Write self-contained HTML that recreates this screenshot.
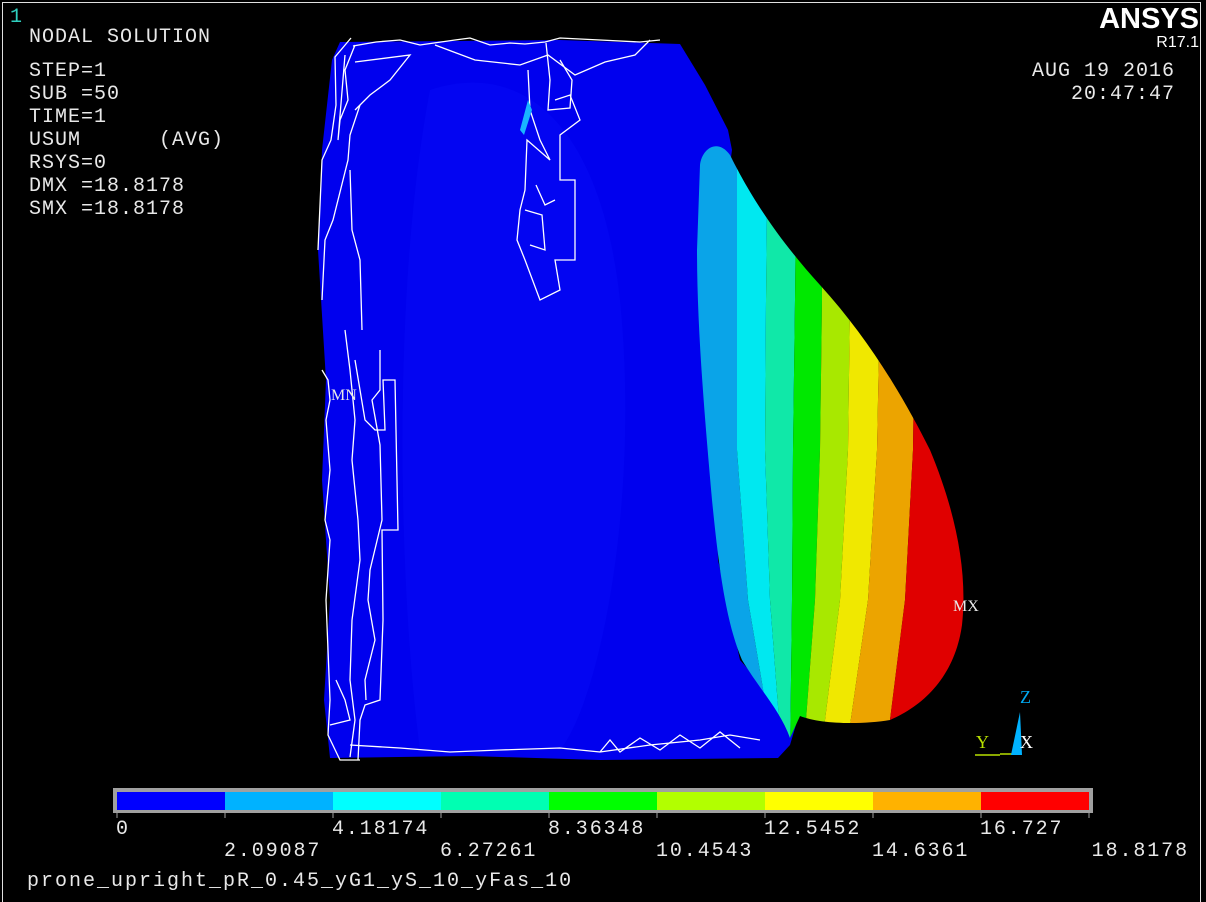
<!DOCTYPE html>
<html><head><meta charset="utf-8">
<style>
html,body{margin:0;padding:0;background:#000;}
#wrap{position:relative;width:1206px;height:902px;overflow:hidden;background:#000;}
svg{position:absolute;left:0;top:0;}
.t{font-family:"Liberation Mono",monospace;font-size:20px;fill:#e8e8e8;letter-spacing:1px;white-space:pre;}
</style></head>
<body>
<div id="wrap">
<svg id="svg" width="1206" height="902" viewBox="0 0 1206 902">
  <rect x="2.5" y="2.5" width="1198" height="905" fill="none" stroke="#e0e0e0" stroke-width="1"/>
  <text x="10" y="22" class="t" style="fill:#2fd0c0;font-size:20px">1</text>
  <g>
    <text x="29" y="42" class="t">NODAL SOLUTION</text>
    <text x="29" y="76" class="t">STEP=1</text>
    <text x="29" y="99" class="t">SUB =50</text>
    <text x="29" y="122" class="t">TIME=1</text>
    <text x="29" y="145" class="t">USUM      (AVG)</text>
    <text x="29" y="168" class="t">RSYS=0</text>
    <text x="29" y="191" class="t">DMX =18.8178</text>
    <text x="29" y="214" class="t">SMX =18.8178</text>
  </g>
  <text x="1199" y="28" text-anchor="end" style="font-family:'Liberation Sans Narrow','Liberation Sans',sans-serif;font-stretch:condensed;font-weight:bold;font-size:29px;fill:#fff">ANSYS</text>
  <text x="1199" y="47" text-anchor="end" style="font-family:'Liberation Sans Narrow','Liberation Sans',sans-serif;font-stretch:condensed;font-size:16px;fill:#fff">R17.1</text>
  <text x="1175" y="76" text-anchor="end" class="t">AUG 19 2016</text>
  <text x="1175" y="99" text-anchor="end" class="t">20:47:47</text>

  <defs>
    <clipPath id="lobeClip">
      <path d="M700,165 C702,148 718,138 730,155 C745,185 770,230 820,285 C870,340 905,400 930,450 C955,510 968,570 962,625 C955,675 925,705 890,720 C860,725 820,724 800,716 L790,738 C780,710 760,690 742,660 C725,620 718,560 712,500 C705,420 697,330 697,250 Z"/>
    </clipPath>
  </defs>

  <path d="M340,42 L560,40 L680,44 L705,85 L728,130 L732,150 L712,300 L718,560 L740,660 L775,700 L798,718 L790,745 L778,758 L600,760 L470,756 L330,758 L324,700 L330,600 L322,480 L326,380 L318,250 L322,150 L332,60 Z" fill="#0000ee"/>
  <path d="M430,90 C520,60 600,120 620,300 C640,500 600,700 560,750 L420,750 C400,600 390,300 430,90 Z" fill="#0a14ff" opacity="0.25"/>

  <g id="lobe" clip-path="url(#lobeClip)"></g>

  <g fill="none" stroke="#fff" stroke-width="1.3">
    <polyline points="351,38 335,57 336,105 331,140 322,160 318,250"/>
    <polyline points="355,45 345,70 348,100 340,120 338,140 345,55"/>
    <polyline points="353,46 376,42 400,40 420,45 455,40 470,38 490,45 510,43 525,44 545,42 560,38 600,40 640,42 660,40"/>
    <polyline points="360,105 350,135 348,160 333,220 325,240 322,300"/>
    <polyline points="355,62 410,55 390,80 370,95 355,110"/>
    <polyline points="350,170 352,230 360,260 362,330"/>
    <polyline points="435,45 475,60 520,65 548,55 575,75 605,62 635,55 650,40"/>
    <polyline points="546,43 550,80 548,110 570,108 572,80 560,60"/>
    <polyline points="528,70 530,110 540,140 550,160 527,140 525,190 520,210 517,240 525,260 540,300 560,290 555,260 575,260 575,180 560,180 560,135 580,120 570,95 555,100"/>
    <polyline points="525,210 542,215 545,250 530,245"/>
    <polyline points="536,185 545,205 555,200"/>
    <polyline points="322,370 328,380 330,400 326,420 330,470 325,520 330,540 326,600 330,700 328,735 340,760 360,760"/>
    <polyline points="345,330 350,370 355,420 352,460 358,520 360,560 352,620 350,680 355,720 350,757"/>
    <polyline points="355,360 365,420 375,430 385,430 383,380 395,380 398,530 382,530 383,620 380,700 365,705 360,720 358,760"/>
    <polyline points="380,350 380,390 372,400 380,445 382,520 370,570 368,600 375,640 365,680 366,700"/>
    <polyline points="336,680 345,700 350,720 330,725"/>
    <polyline points="350,745 400,748 450,752 500,750 560,748 600,752 650,745 700,740 730,735 760,740"/>
    <polyline points="600,752 610,740 620,752 640,738 660,750 680,735 700,748 720,732 740,748"/>
  </g>
  <polygon points="520,130 528,100 532,110 524,135" fill="#19b6ff"/>
  <text x="331" y="400" style="font-family:'Liberation Serif',serif;font-size:16px;fill:#e8e8e8">MN</text>
  <text x="953" y="611" style="font-family:'Liberation Serif',serif;font-size:16px;fill:#e8e8e8">MX</text>

  <g>
    <line x1="975" y1="755" x2="1000" y2="755" stroke="#b8e000" stroke-width="1.5"/>
    <line x1="1000" y1="754" x2="1012" y2="754" stroke="#b8e000" stroke-width="1.5"/>
    <polygon points="1011,755 1020,712 1022,755" fill="#00b2ff"/>
    <text x="1020" y="703" style="font-family:'Liberation Serif',serif;font-size:18px;fill:#00a8f0">Z</text>
    <text x="976" y="748" style="font-family:'Liberation Serif',serif;font-size:18px;fill:#b8e000">Y</text>
    <text x="1020" y="748" style="font-family:'Liberation Serif',serif;font-size:18px;fill:#fff">X</text>
  </g>

  <g id="legend">
    <rect x="113" y="788" width="980" height="25" fill="#a0a0a0"/>
  </g>
  <text x="27" y="886" class="t" style="letter-spacing:2px;font-size:20px">prone_upright_pR_0.45_yG1_yS_10_yFas_10</text>
</svg>
</div>
<script>
const levelLabels = ["0","2.09087","4.18174","6.27261","8.36348","10.4543","12.5452","14.6361","16.727","18.8178"];
const bandColors = ["#0000ff","#00b2ff","#00ffff","#00ffb2","#00ff00","#b2ff00","#ffff00","#ffb200","#ff0000"];
const shadedColors = ["#0000f0","#0aa4e8","#00e8f0","#10e8a8","#00e800","#a8e800","#f0e800","#eca400","#e00000"];

const NS = "http://www.w3.org/2000/svg";
const svg = document.getElementById("svg");
const legend = document.getElementById("legend");
const lobe = document.getElementById("lobe");

const x0 = 117, x1 = 1089;
const nb = bandColors.length;
function lx(i){ return x0 + (x1 - x0) * i / nb; }
bandColors.forEach(function(c, i){
  const r = document.createElementNS(NS, "rect");
  r.setAttribute("x", lx(i)); r.setAttribute("y", 792);
  r.setAttribute("width", lx(i+1) - lx(i)); r.setAttribute("height", 18);
  r.setAttribute("fill", c);
  
  
  legend.appendChild(r);
});
levelLabels.forEach(function(lab, i){
  const x = lx(i);
  const tk = document.createElementNS(NS, "line");
  tk.setAttribute("x1", x); tk.setAttribute("x2", x);
  tk.setAttribute("y1", 813); tk.setAttribute("y2", 818);
  tk.setAttribute("stroke", "#a0a0a0");
  
  
  legend.appendChild(tk);
  const t = document.createElementNS(NS, "text");
  t.textContent = lab;
  t.setAttribute("class", "t");
  t.setAttribute("style", "font-size:20px;letter-spacing:1.9px");
  t.setAttribute("y", i % 2 === 0 ? 834 : 856);
  if (i === levelLabels.length - 1) { t.setAttribute("x", 1189); t.setAttribute("text-anchor", "end"); }
  else t.setAttribute("x", x - 1);
  
  
  legend.appendChild(t);
});

const ys = [120, 300, 450, 600, 760];
const bounds = [
  [600,600,600,600,600],
  [690,690,690,700,720],
  [737,737,737,748,775],
  [768,766,765,770,782],
  [797,795,793,792,790],
  [822,822,820,815,803],
  [850,850,848,840,820],
  [880,880,877,868,845],
  [915,915,913,905,885],
  [1000,1000,1000,1000,1000]
];
for (let i = 1; i < nb; i++) {
  const a = bounds[i], b = bounds[i+1];
  let pts = [];
  for (let k = 0; k < ys.length; k++) pts.push(a[k] + "," + ys[k]);
  for (let k = ys.length - 1; k >= 0; k--) pts.push(b[k] + "," + ys[k]);
  const p = document.createElementNS(NS, "polygon");
  p.setAttribute("points", pts.join(" "));
  p.setAttribute("fill", shadedColors[i]);
  
  
  lobe.appendChild(p);
}
</script>
</body></html>
